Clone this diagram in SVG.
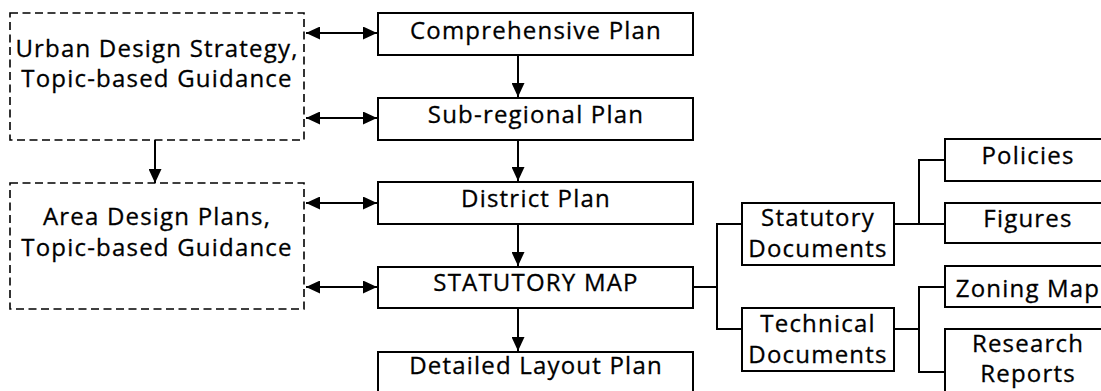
<svg xmlns="http://www.w3.org/2000/svg" width="1101" height="391" viewBox="0 0 1101 391">
<style>
.box{fill:#fff;stroke:#000;stroke-width:2}
.dash{fill:#fff;stroke:#000;stroke-width:1.6;stroke-dasharray:8 4.5}
.ln{fill:none;stroke:#000;stroke-width:2}
text{font-family:"Open Sans","Liberation Sans",sans-serif;font-size:24px;letter-spacing:1.2px;fill:#000;stroke:#000;stroke-width:0.3;text-anchor:middle}
</style>
<defs>
<marker id="ah" viewBox="0 0 14 13" refX="14" refY="6.5" markerWidth="14" markerHeight="13" markerUnits="userSpaceOnUse" orient="auto-start-reverse">
<path d="M0,0 L14,6.5 L0,13 Z" fill="#000"/>
</marker>
</defs>
<rect width="1101" height="391" fill="#fff"/>
<g id="connectors">
<line class="ln" x1="306" y1="33" x2="377" y2="33" marker-start="url(#ah)" marker-end="url(#ah)"/>
<line class="ln" x1="306" y1="118" x2="377" y2="118" marker-start="url(#ah)" marker-end="url(#ah)"/>
<line class="ln" x1="306" y1="203" x2="377" y2="203" marker-start="url(#ah)" marker-end="url(#ah)"/>
<line class="ln" x1="306" y1="287" x2="377" y2="287" marker-start="url(#ah)" marker-end="url(#ah)"/>
<line class="ln" x1="155" y1="140" x2="155" y2="183" marker-end="url(#ah)"/>
<line class="ln" x1="518" y1="55" x2="518" y2="97" marker-end="url(#ah)"/>
<line class="ln" x1="518" y1="140" x2="518" y2="181" marker-end="url(#ah)"/>
<line class="ln" x1="518" y1="224" x2="518" y2="266" marker-end="url(#ah)"/>
<line class="ln" x1="518" y1="308" x2="518" y2="351" marker-end="url(#ah)"/>
<path class="ln" d="M693,287 H717 M742,224 H717 V329 H742"/>
<path class="ln" d="M894,224 H919 M945,160 H919 V224 H945"/>
<path class="ln" d="M894,329 H919 M945,287 H919 V372 H945"/>
</g>
<g id="urban-design">
<rect class="dash" x="10" y="13" width="294" height="127"/>
<text x="157" y="57">Urban Design Strategy,</text>
<text x="157" y="87">Topic-based Guidance</text>
</g>
<g id="area-design">
<rect class="dash" x="10" y="183" width="294" height="126"/>
<text x="157" y="225">Area Design Plans,</text>
<text x="157" y="256">Topic-based Guidance</text>
</g>
<g id="comprehensive">
<rect class="box" x="378" y="13" width="315" height="42"/>
<text x="536" y="39">Comprehensive Plan</text>
</g>
<g id="subregional">
<rect class="box" x="378" y="98" width="315" height="42"/>
<text x="536" y="123">Sub-regional Plan</text>
</g>
<g id="district">
<rect class="box" x="378" y="182" width="315" height="42"/>
<text x="536" y="207">District Plan</text>
</g>
<g id="statutory-map">
<rect class="box" x="378" y="267" width="315" height="41"/>
<text x="536" y="291">STATUTORY MAP</text>
</g>
<g id="detailed">
<rect class="box" x="378" y="352" width="315" height="50"/>
<text x="536" y="374">Detailed Layout Plan</text>
</g>
<g id="statutory-docs">
<rect class="box" x="742" y="203" width="152" height="62"/>
<text x="818" y="226">Statutory</text>
<text x="818" y="257">Documents</text>
</g>
<g id="technical-docs">
<rect class="box" x="742" y="308" width="152" height="63"/>
<text x="818" y="332">Technical</text>
<text x="818" y="363">Documents</text>
</g>
<g id="policies">
<rect class="box" x="945" y="139" width="170" height="42"/>
<text x="1028" y="164">Policies</text>
</g>
<g id="figures">
<rect class="box" x="945" y="203" width="170" height="40"/>
<text x="1028" y="227">Figures</text>
</g>
<g id="zoning">
<rect class="box" x="945" y="266" width="170" height="41"/>
<text x="1028" y="297">Zoning Map</text>
</g>
<g id="research">
<rect class="box" x="945" y="329" width="170" height="80"/>
<text x="1028" y="352">Research</text>
<text x="1028" y="382">Reports</text>
</g>
</svg>
